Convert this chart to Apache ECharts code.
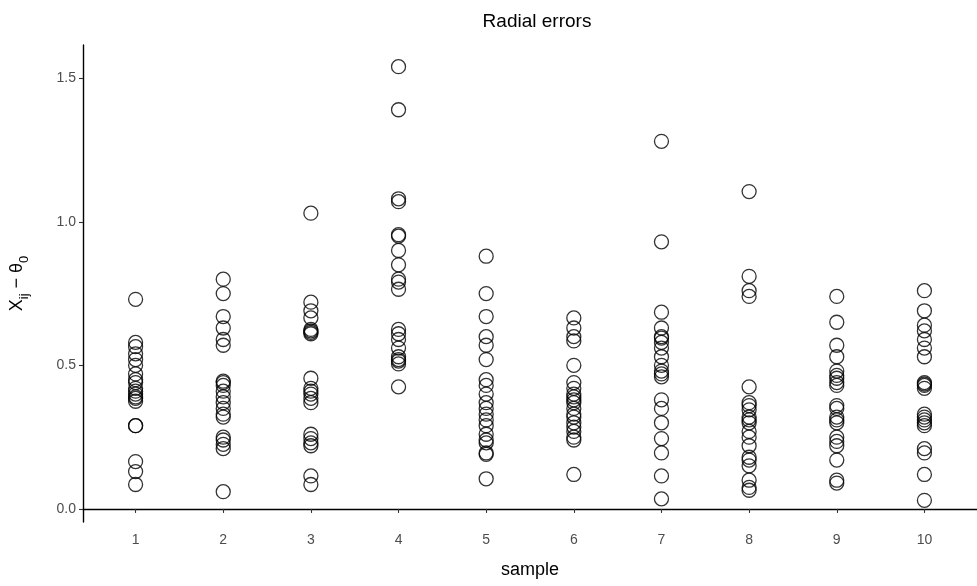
<!DOCTYPE html>
<html>
<head>
<meta charset="utf-8">
<script src="https://cdn.jsdelivr.net/npm/echarts@6/dist/echarts.min.js"></script>
<style>html,body{margin:0;padding:0;background:#fff;}#c{width:977px;height:586px;}</style>
</head>
<body>
<div id="c"></div>
<script>
const categories = [1, 2, 3, 4, 5, 6, 7, 8, 9, 10];
const yTicks = [0, 0.5, 1.0, 1.5];
const s1 = [0.73, 0.58, 0.565, 0.54, 0.52, 0.50, 0.47, 0.45, 0.44, 0.42, 0.41, 0.40, 0.39, 0.385, 0.375, 0.29, 0.29, 0.165, 0.13, 0.085];
const s2 = [0.80, 0.75, 0.67, 0.63, 0.59, 0.57, 0.445, 0.44, 0.43, 0.41, 0.39, 0.37, 0.35, 0.33, 0.32, 0.25, 0.24, 0.225, 0.21, 0.06];
const s3 = [1.03, 0.72, 0.69, 0.665, 0.625, 0.62, 0.615, 0.61, 0.455, 0.42, 0.41, 0.40, 0.385, 0.37, 0.26, 0.245, 0.23, 0.22, 0.115, 0.085];
const s4 = [1.54, 1.39, 1.08, 1.07, 0.955, 0.95, 0.90, 0.85, 0.80, 0.79, 0.765, 0.625, 0.61, 0.59, 0.56, 0.53, 0.52, 0.515, 0.505, 0.425];
const s5 = [0.88, 0.75, 0.67, 0.60, 0.57, 0.52, 0.45, 0.43, 0.40, 0.37, 0.35, 0.33, 0.31, 0.29, 0.26, 0.24, 0.23, 0.195, 0.19, 0.105];
const s6 = [0.665, 0.63, 0.60, 0.585, 0.50, 0.44, 0.42, 0.40, 0.39, 0.38, 0.37, 0.35, 0.33, 0.32, 0.30, 0.285, 0.27, 0.25, 0.24, 0.12];
const s7 = [1.28, 0.93, 0.685, 0.63, 0.60, 0.595, 0.58, 0.56, 0.53, 0.50, 0.48, 0.47, 0.46, 0.38, 0.35, 0.30, 0.245, 0.195, 0.115, 0.035];
const s8 = [1.105, 0.81, 0.76, 0.74, 0.425, 0.37, 0.36, 0.345, 0.32, 0.31, 0.30, 0.27, 0.25, 0.22, 0.18, 0.17, 0.15, 0.10, 0.075, 0.065];
const s9 = [0.74, 0.65, 0.57, 0.53, 0.48, 0.465, 0.455, 0.44, 0.43, 0.36, 0.35, 0.32, 0.31, 0.30, 0.25, 0.235, 0.22, 0.17, 0.10, 0.09];
const s10 = [0.76, 0.69, 0.64, 0.62, 0.59, 0.56, 0.53, 0.44, 0.435, 0.43, 0.42, 0.33, 0.32, 0.31, 0.30, 0.29, 0.21, 0.195, 0.12, 0.03];
const samples = [s1, s2, s3, s4, s5, s6, s7, s8, s9, s10];

const points = [];
samples.forEach((arr, i) => arr.forEach(v => points.push([categories[i], v])));

const chart = echarts.init(document.getElementById('c'), null, {renderer: 'canvas'});
chart.setOption({
  backgroundColor: '#ffffff',
  animation: false,
  title: {
    text: 'Radial errors',
    left: 532, top: 7, textAlign: 'center',
    textStyle: {fontFamily: 'Liberation Sans, Arial, sans-serif', fontSize: 19, fontWeight: 'normal', color: '#000'}
  },
  grid: {left: 83, top: 45, width: 899, height: 477, containLabel: false},
  xAxis: {
    type: 'value', min: 0.4, max: 10.6,
    name: 'sample', nameLocation: 'middle', nameGap: 39,
    nameTextStyle: {fontFamily: 'Liberation Sans, Arial, sans-serif', fontSize: 18, color: '#000'},
    axisLine: {show: true, lineStyle: {color: '#000', width: 1.4}},
    axisTick: {show: true, length: 4, lineStyle: {color: '#333', width: 1.1}, customValues: categories},
    axisLabel: {fontFamily: 'Liberation Sans, Arial, sans-serif', fontSize: 14, color: '#4d4d4d', margin: 11, customValues: categories},
    splitLine: {show: false}
  },
  yAxis: {
    type: 'value', min: -0.0455, max: 1.6155,
    name: '{a|X}{s|ij}{a| − θ}{s|0}', nameLocation: 'middle', nameGap: 52, nameRotate: 90,
    nameTextStyle: {
      rich: {
        a: {fontFamily: 'Liberation Sans, Arial, sans-serif', fontSize: 18, color: '#000', lineHeight: 27, verticalAlign: 'middle'},
        s: {fontFamily: 'Liberation Sans, Arial, sans-serif', fontSize: 13, color: '#000', lineHeight: 13, verticalAlign: 'bottom'}
      }
    },
    axisLine: {show: true, lineStyle: {color: '#000', width: 1.4}},
    axisTick: {show: true, length: 4, lineStyle: {color: '#333', width: 1.1}, customValues: yTicks},
    axisLabel: {fontFamily: 'Liberation Sans, Arial, sans-serif', fontSize: 14, color: '#4d4d4d', margin: 7,
      customValues: yTicks, formatter: v => v.toFixed(1)},
    splitLine: {show: false}
  },
  series: [{
    type: 'scatter',
    data: points,
    symbol: 'circle',
    symbolSize: 14,
    itemStyle: {color: 'rgba(0,0,0,0)', borderColor: '#000', borderWidth: 1.3}
  }]
});
</script>
</body>
</html>
